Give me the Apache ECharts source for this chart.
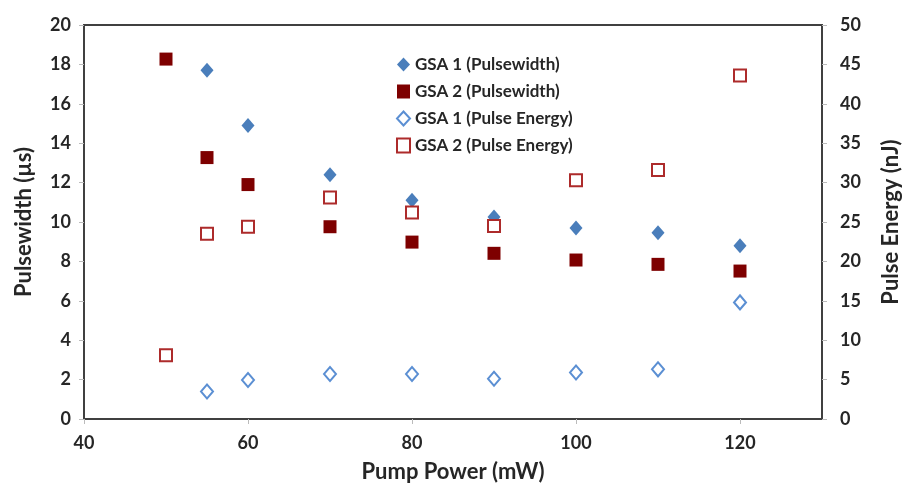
<!DOCTYPE html>
<html><head><meta charset="utf-8">
<script src="https://cdn.jsdelivr.net/npm/echarts@6/dist/echarts.min.js"></script>
<style>html,body{margin:0;padding:0;background:#fff}#c{width:906px;height:483px}</style>
</head><body><div id="c"></div>
<script>
const pumpPower = [50, 55, 60, 70, 80, 90, 100, 110, 120];
const gsa1Width = [null, 17.7, 14.9, 12.4, 11.1, 10.25, 9.7, 9.45, 8.8];
const gsa2Width = [18.27, 13.27, 11.9, 9.76, 8.98, 8.41, 8.07, 7.85, 7.51];
const gsa1Energy = [null, 3.5, 4.95, 5.7, 5.7, 5.1, 5.9, 6.3, 14.8];
const gsa2Energy = [8.1, 23.5, 24.4, 28.1, 26.2, 24.5, 30.3, 31.6, 43.6];
const seriesNames = ['GSA 1 (Pulsewidth)', 'GSA 2 (Pulsewidth)', 'GSA 1 (Pulse Energy)', 'GSA 2 (Pulse Energy)'];

const pairs = (ys) => pumpPower.map((x, i) => ys[i] == null ? null : [x, ys[i]]).filter(p => p);
const font = 'Lato, "Open Sans", sans-serif';
const txt = '#262626';
const chart = echarts.init(document.getElementById('c'), null, {renderer: 'canvas'});
const axisLabel = {color: txt, fontFamily: font, fontWeight: 'bold', fontSize: 18};
const axisName = {color: txt, fontFamily: font, fontWeight: 'bold', fontSize: 22};
chart.setOption({
  animation: false,
  backgroundColor: '#fff',
  grid: {left: 84, right: 84, top: 25, bottom: 64, show: true, borderColor: '#404040', borderWidth: 2,
         containLabel: false, outerBoundsMode: 'none'},
  legend: {
    orient: 'vertical', left: 391, top: 51, itemGap: 10, itemWidth: 13, itemHeight: 14,
    textStyle: {color: txt, fontFamily: font, fontWeight: 'bold', fontSize: 17},
    data: seriesNames
  },
  xAxis: {
    type: 'value', min: 40, max: 130, interval: 20,
    name: 'Pump Power (mW)', nameLocation: 'middle', nameGap: 42, nameTextStyle: axisName,
    axisLine: {show: true, lineStyle: {color: '#404040', width: 2}},
    axisTick: {show: true, length: 5, lineStyle: {color: '#bbb'}},
    splitLine: {show: false},
    axisLabel: Object.assign({margin: 15, showMaxLabel: false, formatter: v => v > 120 ? '' : v}, axisLabel)
  },
  yAxis: [{
    type: 'value', min: 0, max: 20, interval: 2,
    name: 'Pulsewidth (µs)', nameLocation: 'middle', nameGap: 49, nameTextStyle: axisName,
    axisLine: {show: true, lineStyle: {color: '#404040', width: 2}},
    axisTick: {show: true, length: 5, lineStyle: {color: '#bbb'}},
    splitLine: {show: false},
    axisLabel: Object.assign({margin: 13}, axisLabel)
  }, {
    type: 'value', min: 0, max: 50, interval: 5, position: 'right',
    name: 'Pulse Energy (nJ)', nameLocation: 'middle', nameGap: 58, nameRotate: 90, nameTextStyle: axisName,
    axisLine: {show: true, lineStyle: {color: '#404040', width: 2}},
    axisTick: {show: true, length: 5, lineStyle: {color: '#bbb'}},
    splitLine: {show: false},
    axisLabel: Object.assign({margin: 18}, axisLabel)
  }],
  series: [
    {name: seriesNames[0], type: 'scatter', yAxisIndex: 0, symbol: 'diamond', symbolSize: [13, 15],
     itemStyle: {color: '#4a7ebb', opacity: 1}, data: pairs(gsa1Width)},
    {name: seriesNames[1], type: 'scatter', yAxisIndex: 0, symbol: 'rect', symbolSize: 13,
     itemStyle: {color: '#7e0000', opacity: 1}, data: pairs(gsa2Width)},
    {name: seriesNames[2], type: 'scatter', yAxisIndex: 1, symbol: 'diamond', symbolSize: [12, 14],
     itemStyle: {color: '#fff', borderColor: '#5b8fd3', borderWidth: 2, opacity: 1}, data: pairs(gsa1Energy)},
    {name: seriesNames[3], type: 'scatter', yAxisIndex: 1, symbol: 'rect', symbolSize: 12,
     itemStyle: {color: '#fff', borderColor: '#ad2b2b', borderWidth: 2, opacity: 1}, data: pairs(gsa2Energy)}
  ]
});
</script></body></html>
